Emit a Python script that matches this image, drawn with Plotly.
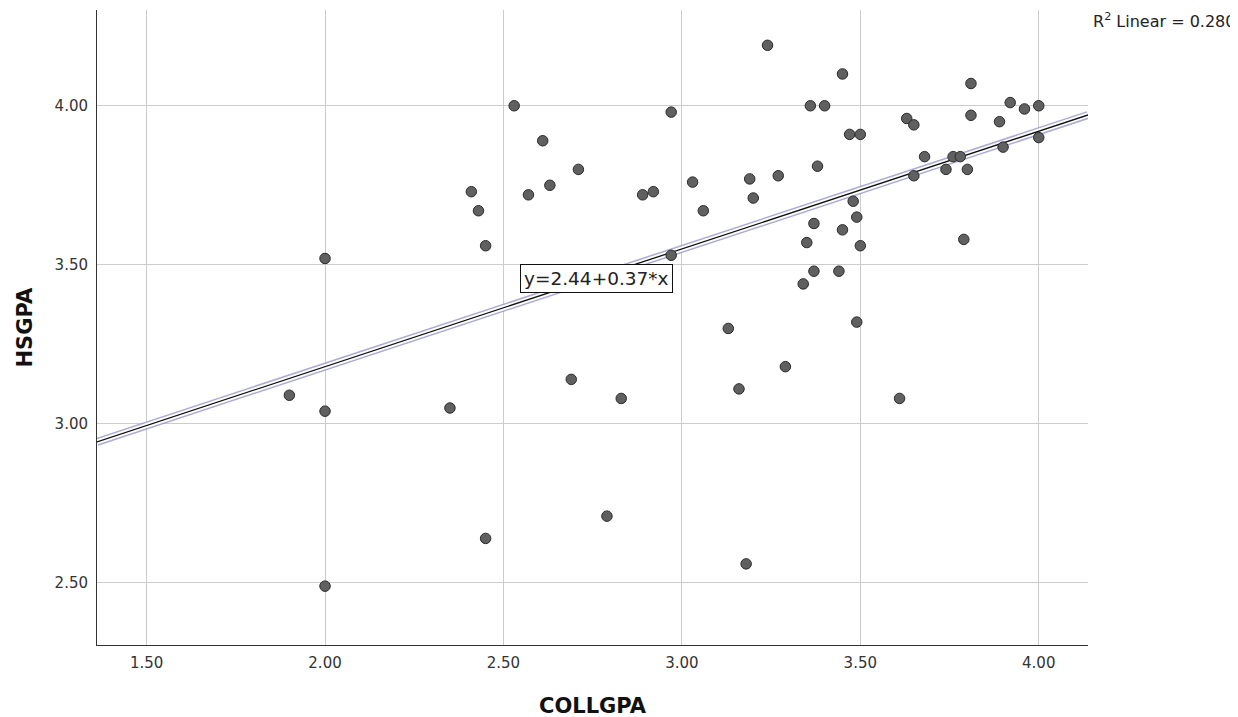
import numpy as np
import plotly.graph_objects as go

# Data (COLLGPA vs HSGPA)
collgpa = [2.00, 1.90, 2.00, 2.00, 2.35, 2.45, 2.41, 2.43, 2.45, 2.53,
           2.61, 2.57, 2.63, 2.71, 2.69, 2.79, 2.83, 2.89, 2.92, 2.97,
           2.97, 3.03, 3.06, 3.13, 3.16, 3.29, 3.18, 3.61, 3.24, 3.19,
           3.20, 3.27, 3.38, 3.37, 3.35, 3.37, 3.34, 3.45, 3.36, 3.40,
           3.47, 3.50, 3.63, 3.65, 3.81, 3.81, 3.92, 3.96, 4.00, 3.89,
           4.00, 3.90, 3.68, 3.76, 3.78, 3.65, 3.74, 3.80, 3.48, 3.49,
           3.45, 3.50, 3.79, 3.44, 3.49]
hsgpa = [3.52, 3.09, 3.04, 2.49, 3.05, 2.64, 3.73, 3.67, 3.56, 4.00,
         3.89, 3.72, 3.75, 3.80, 3.14, 2.71, 3.08, 3.72, 3.73, 3.98,
         3.53, 3.76, 3.67, 3.30, 3.11, 3.18, 2.56, 3.08, 4.19, 3.77,
         3.71, 3.78, 3.81, 3.63, 3.57, 3.48, 3.44, 4.10, 4.00, 4.00,
         3.91, 3.91, 3.96, 3.94, 4.07, 3.97, 4.01, 3.99, 4.00, 3.95,
         3.90, 3.87, 3.84, 3.84, 3.84, 3.78, 3.80, 3.80, 3.70, 3.65,
         3.61, 3.56, 3.58, 3.48, 3.32]

intercept = 2.44
slope = 0.37
r2_text = "R<sup>2</sup> Linear = 0.280"
eq_text = "y=2.44+0.37*x"

x_ticks = [1.50, 2.00, 2.50, 3.00, 3.50, 4.00]
y_ticks = [2.50, 3.00, 3.50, 4.00]

x_range = [1.361, 4.138]
y_range = [2.305, 4.301]

FONT = "DejaVu Sans"

fig = go.Figure()

line_x = np.array(x_range)
line_y = intercept + slope * line_x

# halo / band around fit line
fig.add_trace(go.Scatter(x=line_x, y=line_y, mode="lines",
                         line=dict(color="rgba(150,150,200,0.8)", width=8),
                         hoverinfo="skip", showlegend=False))
fig.add_trace(go.Scatter(x=line_x, y=line_y, mode="lines",
                         line=dict(color="white", width=5),
                         hoverinfo="skip", showlegend=False))
fig.add_trace(go.Scatter(x=line_x, y=line_y, mode="lines",
                         line=dict(color="#111111", width=1.3),
                         hoverinfo="skip", showlegend=False))

fig.add_trace(go.Scatter(x=collgpa, y=hsgpa, mode="markers",
                         marker=dict(size=10.5, color="#606060",
                                     line=dict(color="#2a2a2a", width=1)),
                         showlegend=False))

# page body has an 8px margin: figure is sized to fill the rest of the window
fig.update_layout(
    width=1230, height=709,
    margin=dict(l=89, r=150, t=2, b=72),
    paper_bgcolor="white", plot_bgcolor="white",
    font=dict(family=FONT, size=15, color="#333333"),
    showlegend=False,
    xaxis=dict(range=x_range, tickvals=x_ticks,
               ticktext=[f"{v:.2f}" for v in x_ticks],
               showgrid=True, gridcolor="#cccccc", gridwidth=1,
               zeroline=False, showline=True, linecolor="#333333", linewidth=1,
               ticks="", ticklabelstandoff=4,
               tickfont=dict(family=FONT, size=15, color="#333333")),
    yaxis=dict(range=y_range, tickvals=y_ticks,
               ticktext=[f"{v:.2f}" for v in y_ticks],
               showgrid=True, gridcolor="#cccccc", gridwidth=1,
               zeroline=False, showline=True, linecolor="#333333", linewidth=1,
               ticks="", ticklabelstandoff=5,
               tickfont=dict(family=FONT, size=15, color="#333333")),
)

fig.add_annotation(text="COLLGPA", xref="paper", yref="paper", x=0.5, y=0,
                   xanchor="center", yanchor="middle", yshift=-61,
                   showarrow=False,
                   font=dict(family=FONT, size=21, color="#111111", weight="bold"))
fig.add_annotation(text="HSGPA", xref="paper", yref="paper", x=0, y=0.5,
                   xanchor="center", yanchor="middle", xshift=-73, textangle=-90,
                   showarrow=False,
                   font=dict(family=FONT, size=21, color="#111111", weight="bold"))
fig.add_annotation(text=r2_text, xref="paper", yref="paper", x=1, y=1,
                   xanchor="left", yanchor="middle", xshift=3, yshift=-10,
                   showarrow=False,
                   font=dict(family=FONT, size=16, color="#222222"))
fig.add_annotation(text=eq_text, x=2.76, y=3.457, xref="x", yref="y",
                   xanchor="center", yanchor="middle", showarrow=False,
                   bgcolor="white", bordercolor="#111111", borderwidth=1,
                   borderpad=3,
                   font=dict(family=FONT, size=18.5, color="#222222"))

fig.write_html("out.html")
